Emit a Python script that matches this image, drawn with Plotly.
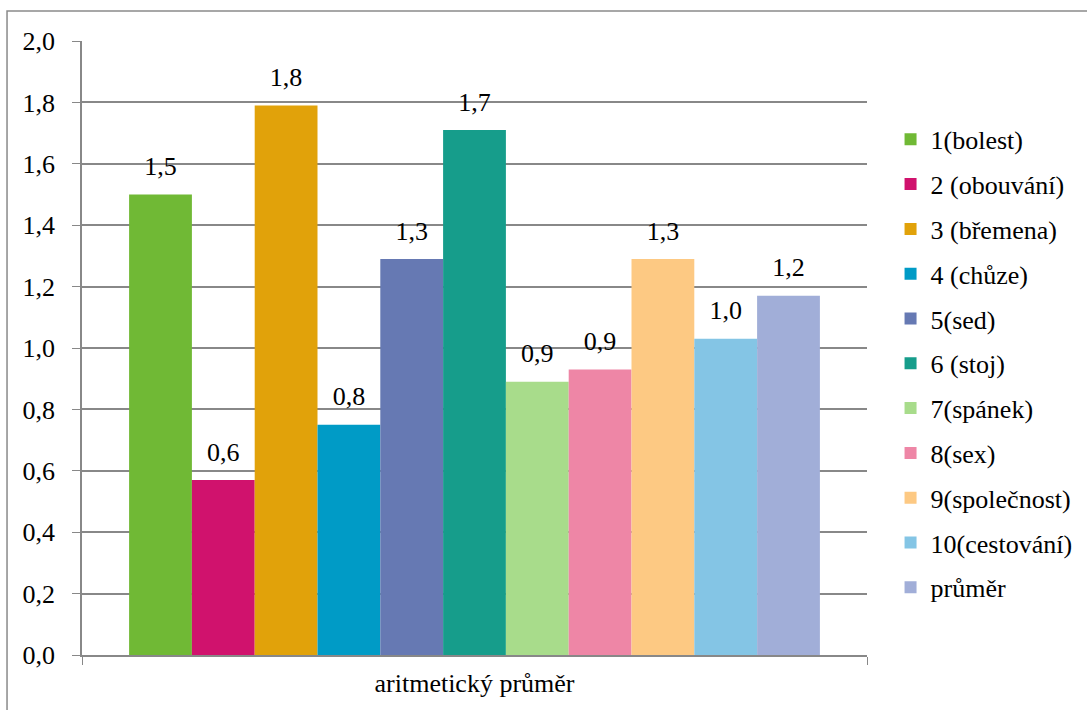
import plotly.graph_objects as go

# Průměrné skóre jednotlivých položek dotazníku
category = ["aritmetický průměr"]
series_names = [
    "1(bolest)", "2 (obouvání)", "3 (břemena)", "4 (chůze)", "5(sed)",
    "6 (stoj)", "7(spánek)", "8(sex)", "9(společnost)", "10(cestování)", "průměr",
]
series_values = [1.50, 0.57, 1.79, 0.75, 1.29, 1.71, 0.89, 0.93, 1.29, 1.03, 1.17]
series_colors = [
    "#70B935", "#D0126D", "#E1A20A", "#009BC6", "#6679B3",
    "#169D8B", "#A8DC8B", "#EE86A6", "#FDC983", "#84C5E5", "#A1AED8",
]
y_ticks = [0.0, 0.2, 0.4, 0.6, 0.8, 1.0, 1.2, 1.4, 1.6, 1.8, 2.0]

FONT = "Liberation Serif"
FS = 26
GRID = "#888888"

fig = go.Figure()
for name, val, col in zip(series_names, series_values, series_colors):
    fig.add_trace(go.Bar(
        x=category, y=[val], name=name, marker_color=col,
        marker_line_width=0, offsetgroup=name, legendgroup=name,
    ))
# value labels placed above each bar
for name, val in zip(series_names, series_values):
    fig.add_trace(go.Scatter(
        x=category, y=[val], mode="markers+text", offsetgroup=name,
        text=[f"{val:.1f}".replace(".", ",")], textposition="top center",
        marker=dict(size=19, opacity=0), textfont=dict(family=FONT, size=FS, color="black"),
        showlegend=False, hoverinfo="skip", cliponaxis=False,
    ))

fig.update_layout(
    width=1087, height=710,
    margin=dict(l=82, r=220, t=41, b=55, autoexpand=False),
    paper_bgcolor="white", plot_bgcolor="white",
    barmode="group", bargap=0.12, bargroupgap=0,
    scattermode="group", scattergap=0.12,
    separators=", ",
    font=dict(family=FONT, size=FS, color="black"),
    legend=dict(
        x=1.03, y=0.878, xanchor="left", yanchor="top",
        font=dict(family=FONT, size=FS), tracegroupgap=8,
        traceorder="grouped", itemwidth=30,
    ),
    shapes=[dict(
        type="rect", xref="paper", yref="paper",
        x0=-0.0955, x1=1.5, y0=-0.2, y1=1.049,
        line=dict(color="#8a8a8a", width=1.5), layer="below",
    )],
)
fig.update_xaxes(
    type="category", showline=True, linecolor=GRID, linewidth=1.5,
    ticks="outside", tickson="boundaries", ticklen=8, tickcolor=GRID,
    tickfont=dict(family=FONT, size=FS), showgrid=False, ticklabelstandoff=4,
)
fig.update_yaxes(
    range=[0, 2.0], tickvals=y_ticks, tickformat=".1f",
    showline=True, linecolor=GRID, linewidth=1.5,
    ticks="outside", ticklen=8, tickcolor=GRID,
    showgrid=True, gridcolor=GRID, gridwidth=1.5, zeroline=False,
    tickfont=dict(family=FONT, size=FS), ticklabelstandoff=12,
)

fig.write_html("out.html")
